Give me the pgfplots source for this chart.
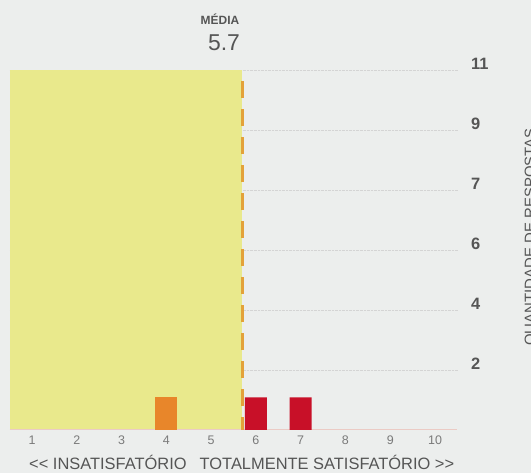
\documentclass[border=0pt]{standalone}
\usepackage{pgfplots}
\pgfplotsset{compat=1.18}
\usepackage{fontspec}
\setmainfont{Liberation Sans}

\definecolor{bg}{HTML}{ECEEED}
\definecolor{yell}{HTML}{E9E98C}
\definecolor{barorange}{HTML}{E8862A}
\definecolor{barred}{HTML}{C81028}
\definecolor{meanline}{HTML}{E3A23A}
\definecolor{basepink}{HTML}{EBCBC5}
\definecolor{txt}{HTML}{555555}
\definecolor{txtlight}{HTML}{7A7A7A}

\begin{document}
\begin{tikzpicture}[x=1bp,y=1bp]
\clip (0,0) rectangle (531,473);
\fill[bg] (0,0) rectangle (531,473);

\begin{axis}[
  at={(9.6bp,43bp)}, anchor=south west,
  scale only axis, width=447.8bp, height=360bp,
  xmin=0.5, xmax=10.5, ymin=0, ymax=11,
  axis x line*=bottom, axis y line*=right,
  axis line style={draw=none},
  major tick length=0pt,
  xtick={1,2,3,4,5,6,7,8,9,10},
  xticklabels={1,2,3,4,5,6,7,8,9,10},
  xticklabel style={font=\fontsize{12.5}{12.5}\selectfont, text=txtlight, anchor=north, inner sep=0pt, yshift=-6bp},
  ytick={1.8333,3.6667,5.5,7.3333,9.1667,11},
  yticklabels={2,4,6,7,9,11},
  yticklabel style={font=\fontsize{16.5}{16.5}\selectfont\bfseries, text=txt, anchor=west, inner sep=0pt, xshift=13.6bp, yshift=6bp},
  ymajorgrids,
  grid style={densely dotted, line width=0.8bp, color=black!17},
  clip=false,
]
% area up to the mean
\addplot[fill=yell, draw=none] coordinates {(0.5,11) (5.7,11)} \closedcycle;
% base line
\addplot[basepink, line width=1bp] coordinates {(0.5,0) (10.5,0)};
% bars
\addplot[ybar, bar width=22bp, bar shift=0pt, fill=barorange, draw=none] coordinates {(4,1)};
\addplot[ybar, bar width=22bp, bar shift=0pt, fill=barred, draw=none] coordinates {(6,1) (7,1)};
% mean line
\addplot[meanline, line width=3bp, dash pattern=on 17bp off 11bp] coordinates {(5.7,10.65) (5.7,0)};
\end{axis}

\node[text=txt, font=\fontsize{12}{12}\selectfont\bfseries] at (220,454) {MÉDIA};
\node[text=txt, font=\fontsize{23}{23}\selectfont] at (224,430) {5.7};
\node[text=txt, font=\fontsize{16.5}{16.5}\selectfont, anchor=base west, inner sep=0pt] at (29,3.5)
  {{<}{<}\ INSATISFATÓRIO\hspace{13bp}TOTALMENTE SATISFATÓRIO {>}{>}};
\node[text=txt, font=\fontsize{15}{15}\selectfont, rotate=90, anchor=base, inner sep=0pt] at (535,236)
  {QUANTIDADE DE RESPOSTAS};
\end{tikzpicture}
\end{document}
